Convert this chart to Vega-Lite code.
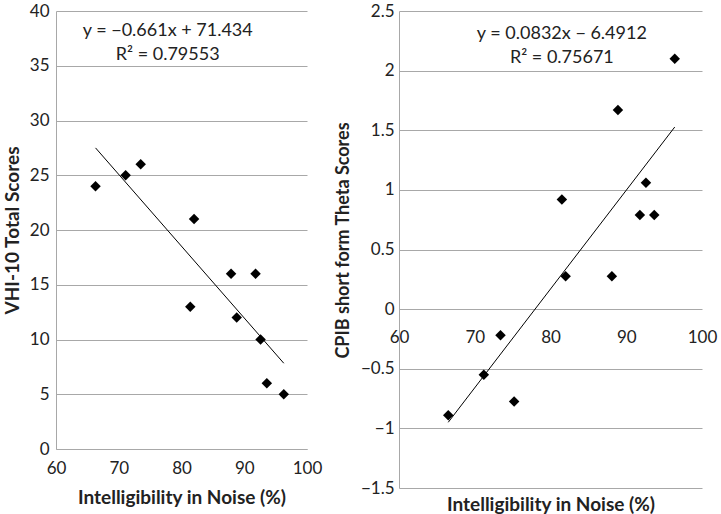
{
  "$schema": "https://vega.github.io/schema/vega-lite/v6.json",
  "padding": {"left": 3, "top": 2, "right": 5, "bottom": 0},
  "spacing": 12,
  "config": {
    "view": {"stroke": null},
    "font": "Lato",
    "axis": {
      "labelFont": "Lato", "labelFontSize": 17, "labelColor": "#222222", "labelFlush": false,
      "titleFont": "Lato", "titleFontSize": 19, "titleFontWeight": "bold", "titleColor": "#222222",
      "gridColor": "#a8a8a8", "gridOpacity": 1, "gridWidth": 1,
      "domainColor": "#a8a8a8", "domainWidth": 1,
      "ticks": false, "tickSize": 0
    }
  },
  "datasets": {
    "vhi": [
      {"intel": 66.3, "score": 24},
      {"intel": 71.1, "score": 25},
      {"intel": 73.5, "score": 26},
      {"intel": 82.0, "score": 21},
      {"intel": 81.4, "score": 13},
      {"intel": 87.9, "score": 16},
      {"intel": 91.8, "score": 16},
      {"intel": 88.8, "score": 12},
      {"intel": 92.6, "score": 10},
      {"intel": 93.6, "score": 6},
      {"intel": 96.3, "score": 5}
    ],
    "cpib": [
      {"intel": 96.4, "theta": 2.1},
      {"intel": 88.9, "theta": 1.67},
      {"intel": 81.5, "theta": 0.92},
      {"intel": 92.6, "theta": 1.06},
      {"intel": 91.8, "theta": 0.79},
      {"intel": 93.7, "theta": 0.79},
      {"intel": 82.0, "theta": 0.275},
      {"intel": 88.1, "theta": 0.275},
      {"intel": 73.4, "theta": -0.22},
      {"intel": 71.2, "theta": -0.55},
      {"intel": 75.2, "theta": -0.775},
      {"intel": 66.5, "theta": -0.89}
    ],
    "eqL": [
      {"x": 77.8, "y": 38.2, "label": "y = −0.661x + 71.434"},
      {"x": 77.8, "y": 36.0, "label": "R² = 0.79553"}
    ],
    "eqR": [
      {"x": 81.5, "y": 2.31, "label": "y = 0.0832x − 6.4912"},
      {"x": 81.5, "y": 2.11, "label": "R² = 0.75671"}
    ]
  },
  "hconcat": [
    {
      "width": 251,
      "height": 438,
      "layer": [
        {
          "data": {"name": "vhi"},
          "mark": {"type": "point", "shape": "diamond", "filled": true, "size": 110, "color": "black", "opacity": 1},
          "encoding": {
            "x": {"field": "intel", "type": "quantitative", "scale": {"domain": [60, 100], "nice": false},
              "axis": {"values": [60, 70, 80, 90, 100], "grid": false, "title": "Intelligibility in Noise (%)", "labelPadding": 11, "titleY": 48, "titleBaseline": "middle"}},
            "y": {"field": "score", "type": "quantitative", "scale": {"domain": [0, 40], "nice": false},
              "axis": {"values": [0, 5, 10, 15, 20, 25, 30, 35, 40], "grid": true, "title": "VHI-10 Total Scores", "labelPadding": 7, "titleX": -44, "titleBaseline": "middle"}}
          }
        },
        {
          "data": {"name": "vhi"},
          "transform": [{"regression": "score", "on": "intel"}],
          "mark": {"type": "line", "color": "black", "strokeWidth": 1},
          "encoding": {
            "x": {"field": "intel", "type": "quantitative"},
            "y": {"field": "score", "type": "quantitative"}
          }
        },
        {
          "data": {"name": "eqL"},
          "mark": {"type": "text", "fontSize": 18, "color": "#222222", "font": "Lato"},
          "encoding": {
            "x": {"field": "x", "type": "quantitative"},
            "y": {"field": "y", "type": "quantitative"},
            "text": {"field": "label"}
          }
        }
      ]
    },
    {
      "width": 303,
      "height": 477,
      "layer": [
        {
          "data": {"name": "cpib"},
          "mark": {"type": "point", "shape": "diamond", "filled": true, "size": 110, "color": "black", "opacity": 1},
          "encoding": {
            "x": {"field": "intel", "type": "quantitative", "scale": {"domain": [60, 100], "nice": false},
              "axis": {"values": [60, 70, 80, 90, 100], "grid": false, "domain": false, "offset": -178, "labelPadding": 19, "title": "Intelligibility in Noise (%)", "titleY": 194, "titleBaseline": "middle"}},
            "y": {"field": "theta", "type": "quantitative", "scale": {"domain": [-1.5, 2.5], "nice": false},
              "axis": {"values": [-1.5, -1, -0.5, 0, 0.5, 1, 1.5, 2, 2.5], "format": ".1~f", "grid": true, "title": "CPIB short form Theta Scores", "titleFontSize": 18, "labelPadding": 5, "titleX": -56, "titleY": 229, "titleBaseline": "middle"}}
          }
        },
        {
          "data": {"name": "cpib"},
          "transform": [{"regression": "theta", "on": "intel"}],
          "mark": {"type": "line", "color": "black", "strokeWidth": 1},
          "encoding": {
            "x": {"field": "intel", "type": "quantitative"},
            "y": {"field": "theta", "type": "quantitative"}
          }
        },
        {
          "data": {"name": "eqR"},
          "mark": {"type": "text", "fontSize": 18, "color": "#222222", "font": "Lato"},
          "encoding": {
            "x": {"field": "x", "type": "quantitative"},
            "y": {"field": "y", "type": "quantitative"},
            "text": {"field": "label"}
          }
        }
      ]
    }
  ]
}
